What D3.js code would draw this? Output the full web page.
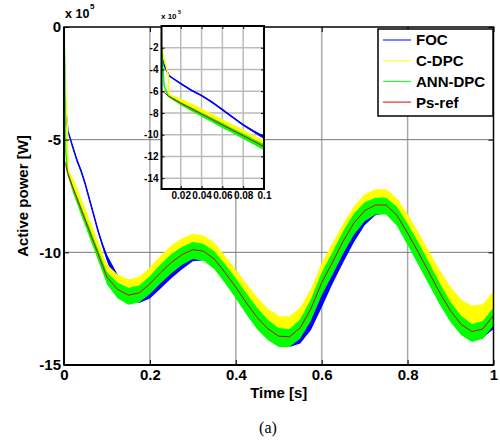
<!DOCTYPE html>
<html lang="en">
<head>
    <meta charset="UTF-8">
    <title>Active power</title>
    <script src="https://cdn.jsdelivr.net/npm/d3@7"></script>
    <style>
        body { margin: 0; background: #fff; }
        text { font-family: "Liberation Sans", Arial, sans-serif; font-weight: bold; }
    </style>
</head>
<body>
<script>
    // time [s]
    var time = [0, 0.002, 0.004, 0.008, 0.009, 0.02, 0.03, 0.04, 0.05, 0.06, 0.07, 0.08, 0.09, 0.1,
        0.125, 0.15, 0.175, 0.2, 0.225, 0.25, 0.275, 0.3, 0.325, 0.35, 0.375, 0.4, 0.425, 0.45, 0.475, 0.5,
        0.525, 0.55, 0.575, 0.6, 0.625, 0.65, 0.675, 0.7, 0.725, 0.75, 0.775, 0.8, 0.825, 0.85, 0.875, 0.9,
        0.925, 0.95, 0.975, 1];

    // active power, x 10^5 W
    var psRef = [-5.9, -6.0, -6.1, -6.45, -6.5, -7.1, -7.6, -8.1, -8.6, -9.1, -9.6, -10.1, -10.6, -11.1,
        -11.65, -11.9, -11.8, -11.4, -10.9, -10.45, -10.1, -9.88, -9.95, -10.3, -10.9, -11.55, -12.25, -12.9, -13.4, -13.72,
        -13.75, -13.35, -12.5, -11.35, -10.45, -9.5, -8.7, -8.15, -7.9, -7.9, -8.35, -9.15, -10.0, -10.9, -11.8, -12.6,
        -13.2, -13.52, -13.4, -12.8];
    var foc = [0, -2.9, -3.6, -4.4, -4.6, -5.3, -5.9, -6.4, -7.0, -7.7, -8.4, -9.1, -9.7, -10.25,
        -11.3, -11.75, -11.85, -11.6, -11.15, -10.7, -10.3, -10.0, -9.95, -10.15, -10.65, -11.25, -11.9, -12.6, -13.2, -13.6,
        -13.8, -13.6, -12.95, -11.95, -10.9, -9.95, -9.1, -8.4, -8.0, -7.9, -8.15, -8.8, -9.6, -10.5, -11.4, -12.25,
        -12.95, -13.4, -13.5, -13.1];
    var cDpc = [0, -2.2, -3.0, -4.5, -6.3, -6.9, -7.35, -7.85, -8.35, -8.85, -9.35, -9.85, -10.35, -10.85,
        -11.45, -11.7, -11.6, -11.2, -10.7, -10.25, -9.9, -9.68, -9.75, -10.1, -10.7, -11.35, -12.0, -12.6, -13.1, -13.42,
        -13.45, -13.05, -12.25, -11.1, -10.2, -9.3, -8.5, -7.95, -7.7, -7.7, -8.15, -8.9, -9.75, -10.6, -11.45, -12.2,
        -12.8, -13.1, -13.0, -12.4];
    var annDpc = [0, -2.6, -5.5, -6.45, -6.5, -7.15, -7.65, -8.15, -8.65, -9.15, -9.65, -10.15, -10.65, -11.15,
        -11.7, -11.95, -11.85, -11.45, -10.95, -10.5, -10.15, -9.92, -10.0, -10.35, -10.95, -11.6, -12.3, -12.95, -13.45, -13.78,
        -13.8, -13.4, -12.55, -11.4, -10.5, -9.55, -8.75, -8.2, -7.95, -7.95, -8.4, -9.2, -10.05, -10.95, -11.85, -12.65,
        -13.25, -13.58, -13.45, -12.85];

    // ripple band width of each signal, x 10^5 W
    var focSpread = [0, 0, 0, 0, 0, 0.15, 0.15, 0.15, 0.15, 0.15, 0.15, 0.15, 0.2, 0.3,
        0.6, 0.7, 0.8, 0.9, 0.9, 0.9, 0.9, 0.8, 0.8, 0.8, 0.9, 0.9, 0.9, 0.9, 0.8, 0.8,
        0.8, 0.9, 1.0, 1.0, 1.0, 1.0, 0.9, 0.8, 0.7, 0.7, 0.8, 0.9, 0.9, 0.9, 0.9, 0.8,
        0.7, 0.6, 0.6, 0.6];
    var cDpcSpread = [0, 0, 0, 0, 0, 0.45, 0.5, 0.5, 0.55, 0.55, 0.6, 0.6, 0.6, 0.65,
        0.9, 1.0, 1.0, 1.05, 1.1, 1.1, 1.05, 1.0, 1.0, 1.05, 1.1, 1.15, 1.2, 1.2, 1.2, 1.2,
        1.2, 1.2, 1.25, 1.25, 1.2, 1.15, 1.1, 1.05, 1.0, 1.0, 1.1, 1.2, 1.25, 1.3, 1.3, 1.35,
        1.4, 1.45, 1.4, 1.35];
    var annSpread = [0, 0, 0, 0.1, 0.2, 0.3, 0.35, 0.4, 0.4, 0.45, 0.45, 0.5, 0.5, 0.55,
        0.7, 0.75, 0.75, 0.8, 0.85, 0.85, 0.8, 0.75, 0.75, 0.8, 0.85, 0.9, 0.95, 0.95, 0.9, 0.85,
        0.8, 0.85, 0.95, 1.0, 1.0, 1.0, 0.95, 0.85, 0.75, 0.75, 0.85, 0.95, 1.0, 1.0, 0.95, 0.9,
        0.85, 0.8, 0.8, 0.8];

    var legendNames = ["FOC", "C-DPC", "ANN-DPC", "Ps-ref"];
    var colors = ["#0000ff", "#ffff00", "#00ff00", "#e00000"];

    var xTicks = [0, 0.2, 0.4, 0.6, 0.8, 1];
    var yTicks = [0, -5, -10, -15];
    var insetXTicks = [0.02, 0.04, 0.06, 0.08, 0.1];
    var insetYTicks = [-2, -4, -6, -8, -10, -12, -14];

    var width = 500, height = 443;
    var svg = d3.select("body").append("svg")
        .attr("width", width)
        .attr("height", height);

    var bands = [
        {v: foc, s: focSpread, c: colors[0]},
        {v: cDpc, s: cDpcSpread, c: colors[1]},
        {v: annDpc, s: annSpread, c: colors[2]}
    ];

    // draws the three signals and the reference with given scales
    function drawData(g, x, y, lw) {
        bands.forEach(function (b) {
            var area = d3.area()
                .x((d, i) => x(time[i]))
                .y0((d, i) => y(b.v[i] - b.s[i] / 2))
                .y1((d, i) => y(b.v[i] + b.s[i] / 2));
            var line = d3.line()
                .x((d, i) => x(time[i]))
                .y((d, i) => y(b.v[i]));
            g.append("path").attr("d", area(time)).attr("fill", b.c);
            g.append("path").attr("d", line(time)).attr("fill", "none")
                .attr("stroke", b.c).attr("stroke-width", lw);
        });
        var refLine = d3.line()
            .x((d, i) => x(time[i]))
            .y((d, i) => y(psRef[i]));
        g.append("path").attr("d", refLine(time)).attr("fill", "none")
            .attr("stroke", colors[3]).attr("stroke-width", 1);
    }

    // ---------- main axes ----------
    var x = d3.scaleLinear().domain([0, 1]).range([64, 493.5]);
    var y = d3.scaleLinear().domain([-15, 0]).range([365, 27]);

    var grid = svg.append("g");
    grid.selectAll(".vg").data(xTicks.slice(1, -1)).enter().append("line")
        .attr("x1", d => x(d)).attr("x2", d => x(d))
        .attr("y1", y(0)).attr("y2", y(-15))
        .attr("stroke", "#aaa").attr("stroke-width", 1.5);
    grid.selectAll(".hg").data(yTicks.slice(1, -1)).enter().append("line")
        .attr("x1", x(0)).attr("x2", x(1))
        .attr("y1", d => y(d)).attr("y2", d => y(d))
        .attr("stroke", "#777").attr("stroke-width", 1);

    svg.append("clipPath").attr("id", "mainclip").append("rect")
        .attr("x", x(0)).attr("y", y(0)).attr("width", x(1) - x(0)).attr("height", y(-15) - y(0));
    drawData(svg.append("g").attr("clip-path", "url(#mainclip)"), x, y, 1.5);

    var xAxis = svg.append("g").attr("transform", "translate(0," + y(-15) + ")")
        .call(d3.axisBottom(x).tickValues(xTicks).tickFormat(String).tickSize(-5).tickSizeOuter(0).tickPadding(4.5));
    var xTop = svg.append("g").attr("transform", "translate(0," + y(0) + ")")
        .call(d3.axisTop(x).tickValues(xTicks).tickFormat("").tickSize(-5).tickSizeOuter(0));
    var yAxis = svg.append("g").attr("transform", "translate(" + x(0) + ",0)")
        .call(d3.axisLeft(y).tickValues(yTicks).tickFormat(String).tickSize(-5).tickSizeOuter(0).tickPadding(3));
    var yRight = svg.append("g").attr("transform", "translate(" + x(1) + ",0)")
        .call(d3.axisRight(y).tickValues(yTicks).tickFormat("").tickSize(-5).tickSizeOuter(0));
    [xAxis, xTop, yAxis, yRight].forEach(function (a) {
        a.select(".domain").remove();
        a.selectAll("line").attr("stroke", "#000");
        a.selectAll("text").attr("font-size", "15px").attr("fill", "#000")
            .attr("font-family", "'Liberation Sans', Arial, sans-serif");
    });
    svg.append("rect")
        .attr("x", x(0)).attr("y", y(0)).attr("width", x(1) - x(0)).attr("height", y(-15) - y(0))
        .attr("fill", "none").attr("stroke", "#000").attr("stroke-width", 1.5);
    svg.append("line").attr("x1", x(0)).attr("x2", x(0)).attr("y1", y(0)).attr("y2", y(-15))
        .attr("stroke", "#000").attr("stroke-width", 2);
    svg.append("line").attr("x1", x(0)).attr("x2", x(1)).attr("y1", y(-15)).attr("y2", y(-15))
        .attr("stroke", "#000").attr("stroke-width", 2);

    // axis multiplier
    svg.append("text").attr("x", 65).attr("y", 18).attr("font-size", "12.5px").text("x 10");
    svg.append("text").attr("x", 90).attr("y", 9).attr("font-size", "8px").text("5");

    svg.append("text")
        .attr("transform", "translate(28,196) rotate(-90)")
        .attr("text-anchor", "middle").attr("font-size", "15px")
        .text("Active power [W]");
    svg.append("text")
        .attr("x", (x(0) + x(1)) / 2).attr("y", 398)
        .attr("text-anchor", "middle").attr("font-size", "15px")
        .text("Time [s]");
    svg.append("text")
        .attr("x", 268).attr("y", 433)
        .attr("text-anchor", "middle").attr("font-size", "16px")
        .style("font-family", "'Liberation Serif', 'Times New Roman', serif").style("font-weight", "normal")
        .text("(a)");

    // ---------- inset ----------
    var ix = d3.scaleLinear().domain([0.0015, 0.1]).range([161.5, 264]);
    var iy = d3.scaleLinear().domain([-15, 0]).range([189, 26]);

    var inset = svg.append("g");
    inset.append("rect")
        .attr("x", ix(0.0015)).attr("y", iy(0)).attr("width", ix(0.1) - ix(0.0015)).attr("height", iy(-15) - iy(0))
        .attr("fill", "#fff");
    inset.selectAll(".ivg").data(insetXTicks.slice(0, -1)).enter().append("line")
        .attr("x1", d => ix(d)).attr("x2", d => ix(d))
        .attr("y1", iy(0)).attr("y2", iy(-15))
        .attr("stroke", "#bbb").attr("stroke-width", 1.5);
    inset.selectAll(".ihg").data(insetYTicks).enter().append("line")
        .attr("x1", ix(0.0015)).attr("x2", ix(0.1))
        .attr("y1", d => iy(d)).attr("y2", d => iy(d))
        .attr("stroke", "#bbb").attr("stroke-width", 1.5);

    svg.append("clipPath").attr("id", "insetclip").append("rect")
        .attr("x", ix(0.0015)).attr("y", iy(0)).attr("width", ix(0.1) - ix(0.0015)).attr("height", iy(-15) - iy(0));
    drawData(inset.append("g").attr("clip-path", "url(#insetclip)"), ix, iy, 1.5);

    var ixAxis = inset.append("g").attr("transform", "translate(0," + iy(-15) + ")")
        .call(d3.axisBottom(ix).tickValues(insetXTicks).tickFormat(String).tickSize(-3).tickSizeOuter(0).tickPadding(3));
    var ixTop = inset.append("g").attr("transform", "translate(0," + iy(0) + ")")
        .call(d3.axisTop(ix).tickValues(insetXTicks).tickFormat("").tickSize(-3).tickSizeOuter(0));
    var iyAxis = inset.append("g").attr("transform", "translate(" + ix(0.0015) + ",0)")
        .call(d3.axisLeft(iy).tickValues(insetYTicks).tickFormat(String).tickSize(-3).tickSizeOuter(0).tickPadding(3));
    var iyRight = inset.append("g").attr("transform", "translate(" + ix(0.1) + ",0)")
        .call(d3.axisRight(iy).tickValues(insetYTicks).tickFormat("").tickSize(-3).tickSizeOuter(0));
    [ixAxis, ixTop, iyAxis, iyRight].forEach(function (a) {
        a.select(".domain").remove();
        a.selectAll("line").attr("stroke", "#000");
        a.selectAll("text").attr("font-size", "10px").attr("fill", "#000")
            .attr("font-family", "'Liberation Sans', Arial, sans-serif");
    });
    inset.append("rect")
        .attr("x", ix(0.0015)).attr("y", iy(0)).attr("width", ix(0.1) - ix(0.0015)).attr("height", iy(-15) - iy(0))
        .attr("fill", "none").attr("stroke", "#000").attr("stroke-width", 2);
    inset.append("text").attr("x", 161).attr("y", 19).attr("font-size", "8px").text("x 10");
    inset.append("text").attr("x", 178).attr("y", 14).attr("font-size", "5.5px").text("5");

    // ---------- legend ----------
    var legend = svg.append("g");
    legend.append("rect")
        .attr("x", 378).attr("y", 29).attr("width", 115).attr("height", 87)
        .attr("fill", "#fff").attr("stroke", "#000").attr("stroke-width", 1.5);
    var items = legend.selectAll(".item").data(legendNames).enter().append("g")
        .attr("transform", (d, i) => "translate(0," + (40 + i * 20.7) + ")");
    items.append("line")
        .attr("x1", 383).attr("x2", 411).attr("y1", 0).attr("y2", 0)
        .attr("stroke", (d, i) => colors[i]).attr("stroke-width", 1);
    items.append("text")
        .attr("x", 416).attr("y", 0).attr("dy", "0.36em")
        .attr("font-size", "15px")
        .text(d => d);
</script>
</body>
</html>
